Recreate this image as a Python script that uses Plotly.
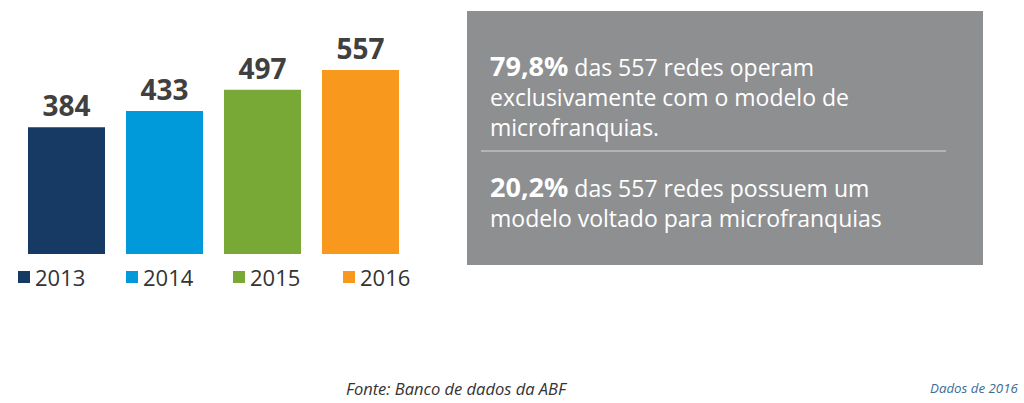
import plotly.graph_objects as go

W, H = 1024, 403

years = ["2013", "2014", "2015", "2016"]
values = [384, 433, 497, 557]
colors = ["#163a63", "#0099da", "#78a836", "#f8991d"]

box_lines_1 = ["<span style='font-size:27px'><b>79,8%</b></span> das 557 redes operam",
               "exclusivamente com o modelo de",
               "microfranquias."]
box_lines_2 = ["<span style='font-size:27px'><b>20,2%</b></span> das 557 redes possuem um",
               "modelo voltado para microfranquias"]
source_text = "Fonte: Banco de dados da ABF"
date_text = "Dados de 2016"

FONT = "Open Sans"


def px(x):
    return x / W


def py(y):
    return 1 - y / H


fig = go.Figure()
fig.add_trace(go.Bar(
    x=years, y=values,
    marker=dict(color=colors, line=dict(width=0)),
    text=[str(v) for v in values],
    textposition="outside",
    textfont=dict(family=FONT, size=28, color="#404040", weight="bold"),
    cliponaxis=False,
    showlegend=False,
    hoverinfo="skip",
))

shapes = []
annotations = []

# legend (squares + labels)
leg_x = [18, 126, 233, 343]
for i, (yr, c) in enumerate(zip(years, colors)):
    x0 = leg_x[i]
    shapes.append(dict(type="rect", xref="paper", yref="paper",
                       x0=px(x0), x1=px(x0 + 12), y0=py(283), y1=py(271),
                       fillcolor=c, line=dict(width=0)))
    annotations.append(dict(xref="paper", yref="paper", x=px(x0 + 15), y=py(277),
                            xanchor="left", yanchor="middle", showarrow=False,
                            text=yr, font=dict(family=FONT, size=22, color="#333333")))

# grey info box
shapes.append(dict(type="rect", xref="paper", yref="paper",
                   x0=px(467), x1=px(983), y0=py(265), y1=py(11),
                   fillcolor="#8e8f91", line=dict(width=0), layer="below"))
shapes.append(dict(type="line", xref="paper", yref="paper",
                   x0=px(481), x1=px(946), y0=py(151), y1=py(151),
                   line=dict(color="#d9d9d9", width=1)))

annotations.append(dict(xref="paper", yref="paper", x=px(488), y=py(95),
                        xanchor="left", yanchor="middle", align="left", showarrow=False,
                        text="<br>".join(box_lines_1),
                        font=dict(family=FONT, size=23, color="#ffffff")))
annotations.append(dict(xref="paper", yref="paper", x=px(488), y=py(201),
                        xanchor="left", yanchor="middle", align="left", showarrow=False,
                        text="<br>".join(box_lines_2),
                        font=dict(family=FONT, size=23, color="#ffffff")))

annotations.append(dict(xref="paper", yref="paper", x=px(457), y=py(388),
                        xanchor="center", yanchor="middle", showarrow=False,
                        text="<i>" + source_text + "</i>",
                        font=dict(family=FONT, size=16.5, color="#333333")))
annotations.append(dict(xref="paper", yref="paper", x=px(1020), y=py(388),
                        xanchor="right", yanchor="middle", showarrow=False,
                        text="<i>" + date_text + "</i>",
                        font=dict(family=FONT, size=13.3, color="#3d6b93")))

fig.update_layout(
    width=W, height=H,
    margin=dict(l=0, r=0, t=0, b=0),
    paper_bgcolor="#ffffff", plot_bgcolor="#ffffff",
    bargap=0.214,
    shapes=shapes, annotations=annotations,
    xaxis=dict(domain=[px(17.5), px(409.5)], showticklabels=False, showgrid=False,
               zeroline=False, showline=False, fixedrange=True),
    yaxis=dict(domain=[py(254), py(30)], range=[0, 224 / (184 / 557)],
               showticklabels=False, showgrid=False, zeroline=False, showline=False,
               fixedrange=True),
    showlegend=False,
)

fig.write_html("out.html")
